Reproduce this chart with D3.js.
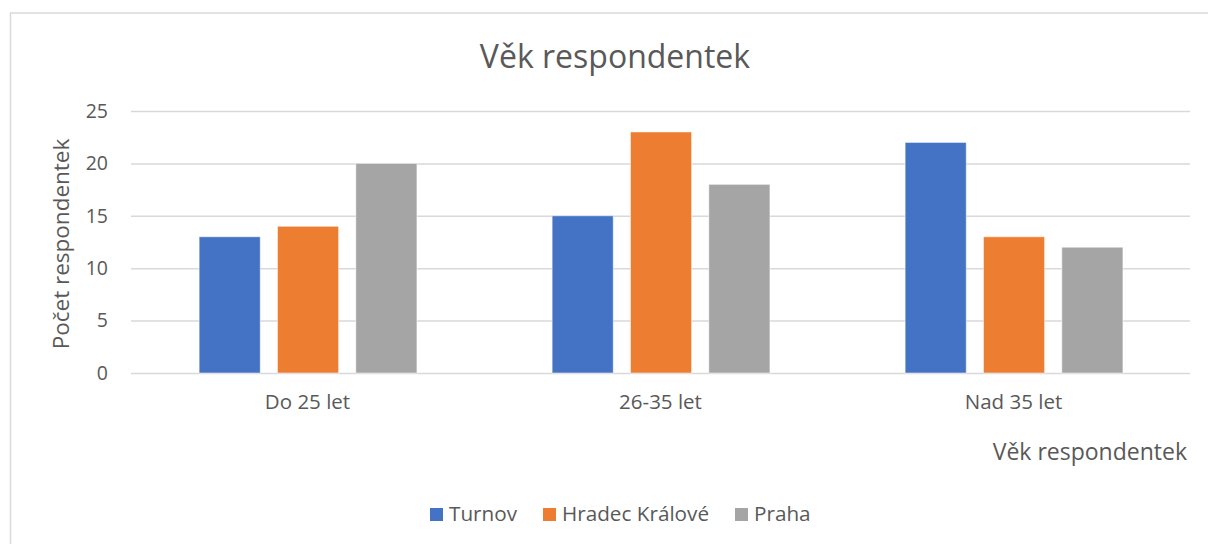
<!DOCTYPE html>
<html>
<head>
<meta charset="utf-8">
<script src="https://cdn.jsdelivr.net/npm/d3@7"></script>
<style>
  body { margin: 0; background: #fff; }
  svg { font-family: "Open Sans", Lato, sans-serif; }
  .grid line { stroke: #d9d9d9; stroke-width: 1.5; }
  .tick text { fill: #595959; }
</style>
</head>
<body>
<div class="chart"></div>
<script>
var categories = ["Do 25 let", "26-35 let", "Nad 35 let"];
var series = ["Turnov", "Hradec Králové", "Praha"];
var turnov = [13, 15, 22];
var hradec = [14, 23, 13];
var praha = [20, 18, 12];
var yTicks = [0, 5, 10, 15, 20, 25];

var colors = ["#4472c4", "#ed7d31", "#a5a5a5"];

var svgWidth = 1208;
var svgHeight = 544;

var margin = { top: 111, right: 18, bottom: 171, left: 131 };
var width = svgWidth - margin.left - margin.right;
var height = svgHeight - margin.top - margin.bottom;

var svg = d3.select(".chart")
  .append("svg")
  .attr("width", svgWidth)
  .attr("height", svgHeight);

// chart frame (only top/left visible in the picture)
svg.append("rect")
  .attr("x", 10.5)
  .attr("y", 13)
  .attr("width", svgWidth + 20)
  .attr("height", svgHeight + 20)
  .attr("fill", "none")
  .attr("stroke", "#d9d9d9")
  .attr("stroke-width", 1.5);

var chartGroup = svg.append("g")
  .attr("transform", `translate(${margin.left}, ${margin.top})`);

var data = categories.map(function(c, i) {
  return { cat: c, values: [turnov[i], hradec[i], praha[i]] };
});

var xScale = d3.scaleBand()
  .domain(categories)
  .range([0, width]);

var bw = xScale.bandwidth();
var xSub = d3.scaleBand()
  .domain(series)
  .range([bw * 0.193, bw * 0.81])
  .paddingInner(0.22);

var yScale = d3.scaleLinear()
  .domain([0, 25])
  .range([height, 0]);

// gridlines
var grid = chartGroup.append("g")
  .attr("class", "grid")
  .call(d3.axisLeft(yScale).tickValues(yTicks).tickSize(-width).tickFormat(""));
grid.select(".domain").remove();

// y tick labels
var leftAxis = chartGroup.append("g")
  .call(d3.axisLeft(yScale).tickValues(yTicks).tickSize(0).tickPadding(23));
leftAxis.select(".domain").remove();
leftAxis.selectAll("text")
  .attr("font-size", "19.5px")
  .attr("font-family", "'Open Sans', Lato, sans-serif");

// bars
var groups = chartGroup.selectAll(".cat")
  .data(data)
  .enter()
  .append("g")
  .attr("transform", d => `translate(${xScale(d.cat)}, 0)`);

groups.selectAll("rect")
  .data(d => d.values.map((v, i) => ({ s: series[i], v: v, i: i })))
  .enter()
  .append("rect")
  .attr("x", d => xSub(d.s))
  .attr("y", d => yScale(d.v))
  .attr("width", xSub.bandwidth())
  .attr("height", d => height - yScale(d.v))
  .attr("fill", d => colors[d.i])
  .attr("stroke", "#ffffff")
  .attr("stroke-opacity", 0.5)
  .attr("stroke-width", 1);

// x category labels
var bottomAxis = chartGroup.append("g")
  .attr("transform", `translate(0, ${height})`)
  .call(d3.axisBottom(xScale).tickSize(0).tickPadding(21));
bottomAxis.select(".domain").remove();
bottomAxis.selectAll("text")
  .attr("font-size", "20.5px")
  .attr("font-family", "'Open Sans', Lato, sans-serif");

// title
svg.append("text")
  .attr("x", 615)
  .attr("y", 68)
  .attr("text-anchor", "middle")
  .attr("font-size", "32px")
  .attr("fill", "#595959")
  .text("Věk respondentek");

// y axis title
svg.append("text")
  .attr("transform", "rotate(-90)")
  .attr("x", -(margin.top + height / 2) - 2)
  .attr("y", 69)
  .attr("text-anchor", "middle")
  .attr("font-size", "22.5px")
  .attr("fill", "#595959")
  .text("Počet respondentek");

// x axis title
svg.append("text")
  .attr("x", 1187)
  .attr("y", 460)
  .attr("text-anchor", "end")
  .attr("font-size", "23px")
  .attr("fill", "#595959")
  .text("Věk respondentek");

// legend
var legendX = [430, 543, 735];
var legend = svg.append("g");
series.forEach(function(s, i) {
  legend.append("rect")
    .attr("x", legendX[i])
    .attr("y", 508)
    .attr("width", 13)
    .attr("height", 13)
    .attr("fill", colors[i]);
  legend.append("text")
    .attr("x", legendX[i] + 19)
    .attr("y", 521)
    .attr("font-size", "20.7px")
    .attr("fill", "#595959")
    .text(s);
});
</script>
</body>
</html>
